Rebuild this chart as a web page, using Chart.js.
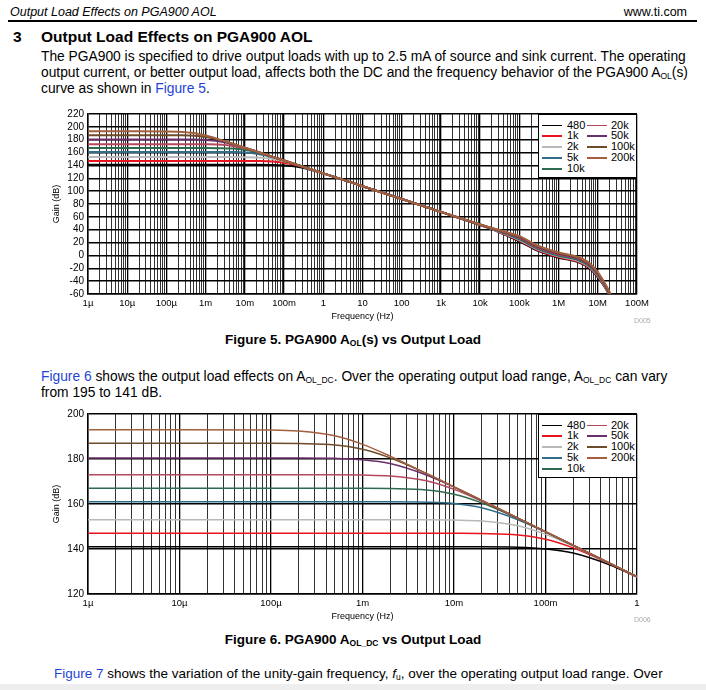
<!DOCTYPE html>
<html>
<head>
<meta charset="utf-8">
<script src="https://cdn.jsdelivr.net/npm/chart.js@4.4.1/dist/chart.umd.min.js"></script>
<style>
  body { margin: 0; width: 706px; height: 690px; position: relative; overflow: hidden; background: #fff;
         font-family: "Liberation Sans", Arial, sans-serif; color: #000; }
  .abs { position: absolute; white-space: nowrap; }
  .hdr { top: 5px; font-size: 12.5px; line-height: 14px; font-style: italic; }
  .rule { left: 8px; top: 20px; width: 689px; height: 2px; background: #000; }
  .sec { top: 28px; font-size: 15.5px; line-height: 18px; font-weight: bold; }
  .para { left: 41px; font-size: 13.8px; line-height: 16px; }
  .cap { left: 0; width: 706px; text-align: center; font-size: 13.5px; line-height: 16px; font-weight: bold; }
  a, .lnk { color: #1f45d6; text-decoration: none; }
  sub { font-size: 8.5px; vertical-align: -2px; line-height: 0; }
  .chartbox { position: absolute; left: 0; width: 706px; height: 232px; }
  .code { font-size: 7px; color: #aaa; }
  .legend { position: absolute; width: 99px; height: 64px; border: 1px solid #000; background: #fff;
            box-sizing: border-box; font-size: 11px; }
  .legend .it { position: absolute; height: 11px; line-height: 11px; }
  .legend .ln { position: absolute; top: 5px; width: 20px; height: 1.5px; }
  .legend .tx { position: absolute; }
  .band { left: 0; top: 684px; width: 706px; height: 6px; background: #eeeeee; }
</style>
</head>
<body>
<div class="abs hdr" style="left:10px">Output Load Effects on PGA900 AOL</div>
<div class="abs hdr" style="right:19px;font-style:normal">www.ti.com</div>
<div class="abs rule"></div>
<div class="abs sec" style="left:13px">3</div>
<div class="abs sec" style="left:41px">Output Load Effects on PGA900 AOL</div>
<div class="abs para" style="top:49px">The PGA900 is specified to drive output loads with up to 2.5 mA of source and sink current. The operating<br>output current, or better output load, affects both the DC and the frequency behavior of the PGA900 A<sub>OL</sub>(s)<br>curve as shown in <span class="lnk">Figure 5</span>.</div>

<div class="chartbox" style="top:100px"><canvas id="chart1"></canvas></div>
<div class="abs code" style="left:634px;top:317px">D005</div>
<div class="abs cap" style="top:332px">Figure 5. PGA900 A<sub>OL</sub>(s) vs Output Load</div>

<div class="abs para" style="top:369px"><span class="lnk">Figure 6</span> shows the output load effects on A<sub>OL_DC</sub>. Over the operating output load range, A<sub>OL_DC</sub> can vary<br>from 195 to 141 dB.</div>

<div class="chartbox" style="top:400px"><canvas id="chart2"></canvas></div>
<div class="abs code" style="left:634px;top:616px">D006</div>
<div class="abs cap" style="top:632px">Figure 6. PGA900 A<sub>OL_DC</sub> vs Output Load</div>

<div class="abs para" style="top:666px;left:54px;font-size:13.5px"><span class="lnk">Figure 7</span> shows the variation of the unity-gain frequency, <i>f</i><sub>u</sub>, over the operating output load range. Over</div>
<div class="abs band"></div>

<script>
// output loads and their trace colours
const loads = ['480', '1k', '2k', '5k', '10k', '20k', '50k', '100k', '200k'];
const loadColors = ['#000000', '#e8141c', '#b8b8b8', '#2f6d8a', '#2d6a4f', '#b4485e', '#6b2f6b', '#6e4b2a', '#a3603e'];

// frequency points (Hz)
const freqLow = [1e-6, 1e-5, 1e-4, 2e-4, 5e-4, 1e-3, 2e-3, 5e-3, 1e-2, 2e-2, 5e-2, 0.1, 0.2, 0.5, 1];
const freqHigh = [10, 100, 1e3, 1e4, 3e4, 1e5, 3e5, 1e6, 3e6, 6e6, 1e7, 1.5e7, 2e7, 2.5e7];

// gain (dB) up to 1 Hz, per load
const gain480 = [141, 141, 141, 141, 141, 141, 141, 141, 141, 141, 140.8, 140.0, 138.2, 133.0, 127.6];
const gain1k = [147, 147, 147, 147, 147, 147, 147, 147, 146.96, 146.85, 146.2, 144.3, 140.5, 133.5, 127.6];
const gain2k = [153, 153, 153, 153, 153, 153, 153, 153, 152.85, 152.4, 150.3, 146.5, 141.3, 133.6, 127.6];
const gain5k = [161, 161, 161, 161, 161, 161, 161, 160.8, 160.2, 158.3, 153.0, 147.5, 141.6, 133.7, 127.7];
const gain10k = [167, 167, 167, 167, 167, 167, 166.85, 166.2, 164.3, 160.5, 153.5, 147.6, 141.6, 133.7, 127.7];
const gain20k = [173, 173, 173, 173, 173, 172.85, 172.4, 170.3, 166.5, 161.3, 153.6, 147.6, 141.7, 133.7, 127.7];
const gain50k = [180.5, 180.5, 180.5, 180.5, 180.3, 179.7, 178.0, 172.9, 167.5, 161.6, 153.7, 147.7, 141.7, 133.7, 127.7];
const gain100k = [187, 187, 187, 186.85, 186.2, 184.3, 180.5, 173.5, 167.6, 161.6, 153.7, 147.7, 141.7, 133.7, 127.7];
const gain200k = [193, 193, 192.85, 192.4, 190.3, 186.5, 181.3, 173.6, 167.6, 161.7, 153.7, 147.7, 141.7, 133.7, 127.7];

// gain (dB) from 10 Hz up, per load (figure 5 only)
const hi480 = [107.7, 87.7, 67.7, 47.2, 36.5, 22, 7, -3.5, -10, -19.5, -34, -49, -63, -77];
const hi1k = [107.7, 87.7, 67.7, 47.3, 36.9, 23, 8, -2.5, -9, -18.5, -33, -48.2, -62.2, -76.2];
const hi2k = [107.7, 87.7, 67.7, 47.5, 37.2, 24, 9, -1.5, -8, -17.5, -32, -47.5, -61.5, -75.5];
const hi5k = [107.7, 87.7, 67.7, 47.6, 37.6, 25, 10, -0.5, -7, -16.5, -31, -46.8, -60.8, -74.8];
const hi10k = [107.7, 87.7, 67.7, 47.7, 38, 26, 11, 0.5, -6, -15.5, -30, -46, -60, -74];
const hi20k = [107.7, 87.7, 67.7, 47.8, 38.4, 27, 12, 1.5, -5, -14.5, -29, -45.2, -59.2, -73.2];
const hi50k = [107.7, 87.7, 67.7, 48.0, 38.8, 28, 13, 2.5, -4, -13.5, -28, -44.5, -58.5, -72.5];
const hi100k = [107.7, 87.7, 67.7, 48.1, 39.1, 29, 14, 3.5, -3, -12.5, -27, -43.8, -57.8, -71.8];
const hi200k = [107.7, 87.7, 67.7, 48.2, 39.5, 30, 15, 4.5, -2, -11.5, -26, -43, -57, -71];

// axes
const decades1 = [1e-6, 1e-5, 1e-4, 1e-3, 1e-2, 1e-1, 1, 10, 100, 1e3, 1e4, 1e5, 1e6, 1e7, 1e8];
const decadeLabels1 = ['1µ', '10µ', '100µ', '1m', '10m', '100m', '1', '10', '100', '1k', '10k', '100k', '1M', '10M', '100M'];
const decades2 = [1e-6, 1e-5, 1e-4, 1e-3, 1e-2, 1e-1, 1];
const decadeLabels2 = ['1µ', '10µ', '100µ', '1m', '10m', '100m', '1'];
const yTicks1 = [-60, -40, -20, 0, 20, 40, 60, 80, 100, 120, 140, 160, 180, 200, 220];
const yTicks2 = [120, 140, 160, 180, 200];

const lowSeries = [gain480, gain1k, gain2k, gain5k, gain10k, gain20k, gain50k, gain100k, gain200k];
const highSeries = [hi480, hi1k, hi2k, hi5k, hi10k, hi20k, hi50k, hi100k, hi200k];

const FONT = 'Liberation Sans, Arial, sans-serif';

function toPoints(freqs, gains) {
  return freqs.map((f, i) => ({ x: f, y: gains[i] }));
}

function buildDatasets(withHigh, width) {
  // heaviest load first so it is drawn on top
  const sets = loads.map((name, i) => {
    const freqs = withHigh ? freqLow.concat(freqHigh) : freqLow;
    const gains = withHigh ? lowSeries[i].concat(highSeries[i]) : lowSeries[i];
    return {
      label: name,
      data: toPoints(freqs, gains),
      borderColor: loadColors[i],
      borderWidth: width,
      pointRadius: 0,
      cubicInterpolationMode: 'monotone',
      fill: false,
    };
  });
  return sets.reverse();
}

function logTicks(decades, labels) {
  return (scale) => {
    const ticks = [];
    decades.forEach((d, i) => {
      ticks.push({ value: d, major: true, lbl: labels[i] });
      if (i < decades.length - 1) {
        for (let m = 2; m <= 9; m++) ticks.push({ value: d * m, major: false, lbl: '' });
      }
    });
    scale.ticks = ticks;
  };
}

function makeChart(id, decades, labels, yTicks, withHigh, width) {
  const canvas = document.getElementById(id);
  return new Chart(canvas, {
    type: 'line',
    data: { datasets: buildDatasets(withHigh, width) },
    options: {
      responsive: true,
      maintainAspectRatio: false,
      animation: false,
      layout: { padding: { left: 0, right: 69, top: 14, bottom: 0 } },
      plugins: { legend: { display: false }, tooltip: { enabled: false } },
      scales: {
        x: {
          type: 'logarithmic',
          min: decades[0],
          max: decades[decades.length - 1],
          afterBuildTicks: logTicks(decades, labels),
          afterFit: (s) => { s.height = 38; },
          ticks: {
            autoSkip: false, maxRotation: 0, minRotation: 0, padding: 4,
            color: '#000', font: { family: FONT, size: 9.5 },
            callback: (v, i, t) => t[i].lbl,
          },
          grid: {
            drawTicks: false,
            color: (c) => (c.tick && c.tick.major ? '#000' : '#333'),
            lineWidth: (c) => (c.tick && c.tick.major ? 1.3 : 1),
          },
          border: { color: '#000', width: 1.5 },
          title: {
            display: true, text: 'Frequency (Hz)', color: '#000',
            font: { family: FONT, size: 9 }, padding: { top: 0, bottom: 10 },
          },
        },
        y: {
          min: yTicks[0],
          max: yTicks[yTicks.length - 1],
          afterBuildTicks: (s) => { s.ticks = yTicks.map((v) => ({ value: v })); },
          afterFit: (s) => { s.width = 88; },
          ticks: { autoSkip: false, color: '#000', font: { family: FONT, size: 10 }, padding: 4 },
          grid: { drawTicks: false, color: '#000', lineWidth: 1.5 },
          border: { color: '#000', width: 1.5 },
          title: {
            display: true, text: 'Gain (dB)', color: '#000',
            font: { family: FONT, size: 9 }, padding: { top: 51, bottom: 0 },
          },
        },
      },
    },
  });
}

function addLegend(chart, box) {
  const area = chart.chartArea;
  const leg = document.createElement('div');
  leg.className = 'legend';
  leg.style.left = (area.right - 99) + 'px';
  leg.style.top = area.top + 'px';
  loads.forEach((name, i) => {
    const col = i < 5 ? 0 : 1;
    const row = i < 5 ? i : i - 5;
    const it = document.createElement('div');
    it.className = 'it';
    it.style.top = (4.5 + row * 10.9) + 'px';
    it.style.left = (col === 0 ? 3 : 48) + 'px';
    it.innerHTML = `<span class="ln" style="left:0;background:${loadColors[i]}"></span><span class="tx" style="left:${col === 0 ? 25 : 24}px">${name}</span>`;
    leg.appendChild(it);
  });
  box.appendChild(leg);
}

const chart1 = makeChart('chart1', decades1, decadeLabels1, yTicks1, true, 2);
const chart2 = makeChart('chart2', decades2, decadeLabels2, yTicks2, false, 1.5);
addLegend(chart1, document.getElementById('chart1').parentNode);
addLegend(chart2, document.getElementById('chart2').parentNode);
</script>
</body>
</html>
